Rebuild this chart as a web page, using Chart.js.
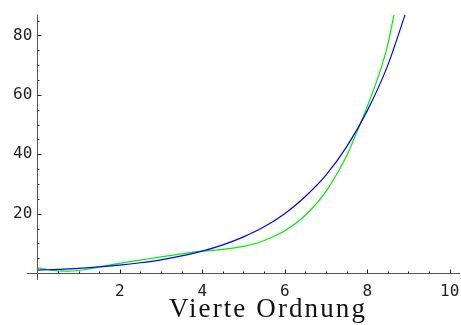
<!DOCTYPE html>
<html>
<head>
<meta charset="utf-8">
<script src="https://cdn.jsdelivr.net/npm/chart.js@4.4.1/dist/chart.umd.min.js"></script>
<style>
  html, body { margin: 0; padding: 0; background: #fff; }
  #wrap { position: relative; width: 461px; height: 325px; }
  #caption { position: absolute; left: 0; width: 536px; top: 293px; text-align: center;
    font-family: 'Liberation Serif', 'DejaVu Serif', serif; font-size: 27px; letter-spacing: 2.1px; color: #111; }
</style>
</head>
<body>
<div id="wrap">
  <canvas id="myChart" width="461" height="325"></canvas>
  <div id="caption">Vierte Ordnung</div>
</div>
<script>
// data
var xBlue = [0, 0.5, 1, 1.5, 2, 2.5, 3, 3.5, 4, 4.5, 5, 5.5, 6, 6.5, 7, 7.5, 8, 8.5, 8.92];
var blue = [1.0, 1.3, 1.6, 2.1, 2.7, 3.5, 4.5, 5.8, 7.4, 9.5, 12.2, 15.6, 20, 25.8, 33, 42.5, 54.6, 70, 87];
var xGreen = [0, 0.25, 0.5, 0.75, 1, 1.25, 1.5, 2, 2.5, 3, 3.5, 4, 4.5, 5, 5.25, 5.5, 6, 6.5, 7, 7.5, 7.75, 8, 8.36, 8.5, 8.65];
var green = [1.8, 1.2, 0.8, 0.7, 0.9, 1.4, 2.1, 3.3, 4.4, 5.5, 6.5, 7.4, 8.0, 9.0, 9.8, 11.0, 14.3, 19.5, 27.5, 39.5, 47.5, 56, 70, 77, 87];
var xTicks = [2, 4, 6, 8, 10];
var yTicks = [20, 40, 60, 80];

function pairs(xs, ys) {
    var out = [];
    for (var i = 0; i < xs.length; i++) out.push({x: xs[i], y: ys[i]});
    return out;
}

// axes through the origin with small inside tick marks
var axesPlugin = {
    id: 'originAxes',
    afterDatasetsDraw: function(chart) {
        var ctx = chart.ctx, xs = chart.scales.x, ys = chart.scales.y, a = chart.chartArea;
        var x0 = Math.round(xs.getPixelForValue(0)) + 0.5;
        var y0 = Math.round(ys.getPixelForValue(0)) + 0.5;
        ctx.save();
        ctx.lineWidth = 1;
        ctx.strokeStyle = '#555';
        ctx.beginPath();
        ctx.moveTo(xs.getPixelForValue(-0.25), y0); ctx.lineTo(a.right, y0);
        ctx.moveTo(x0, a.top); ctx.lineTo(x0, a.bottom);
        ctx.stroke();
        ctx.strokeStyle = '#222';
        ctx.beginPath();
        for (var v = 0.5; v <= 10; v += 0.5) {
            var px = Math.round(xs.getPixelForValue(v)) + 0.5;
            var len = (v % 2 === 0) ? 4 : 2;
            ctx.moveTo(px, y0); ctx.lineTo(px, y0 - len);
        }
        for (var w = 5; w <= 85; w += 5) {
            var py = Math.round(ys.getPixelForValue(w)) + 0.5;
            var l2 = (w % 20 === 0) ? 4 : 2;
            ctx.moveTo(x0, py); ctx.lineTo(x0 + l2, py);
        }
        ctx.stroke();
        ctx.restore();
    }
};

var tickFont = { family: 'DejaVu Sans Mono', size: 16 };

var myChart = new Chart(document.getElementById('myChart').getContext('2d'), {
    type: 'line',
    data: {
        datasets: [
            {
                label: 'blau',
                data: pairs(xBlue, blue),
                borderColor: '#0000ff',
                borderWidth: 1.2,
                pointRadius: 0,
                cubicInterpolationMode: 'monotone',
                fill: false
            },
            {
                label: 'gruen',
                data: pairs(xGreen, green),
                borderColor: '#00ee00',
                borderWidth: 1.2,
                pointRadius: 0,
                cubicInterpolationMode: 'monotone',
                fill: false
            }
        ]
    },
    options: {
        responsive: false,
        animation: false,
        layout: { padding: { left: 8, right: 1, top: 12, bottom: 45 } },
        plugins: { legend: { display: false }, tooltip: { enabled: false } },
        scales: {
            x: {
                type: 'linear',
                min: 0,
                max: 10.25,
                position: { y: 0 },
                afterBuildTicks: function(s) { s.ticks = xTicks.map(function(v) { return {value: v}; }); },
                grid: { display: false },
                border: { display: false },
                ticks: { color: '#222', font: tickFont, padding: 1, autoSkip: false, maxRotation: 0 }
            },
            y: {
                type: 'linear',
                min: -2.3,
                max: 87,
                position: 'left',
                afterBuildTicks: function(s) { s.ticks = yTicks.map(function(v) { return {value: v}; }); },
                grid: { display: false, tickLength: 0 },
                border: { display: false },
                ticks: { color: '#222', font: tickFont, padding: 5 }
            }
        }
    },
    plugins: [axesPlugin]
});
</script>
</body>
</html>
